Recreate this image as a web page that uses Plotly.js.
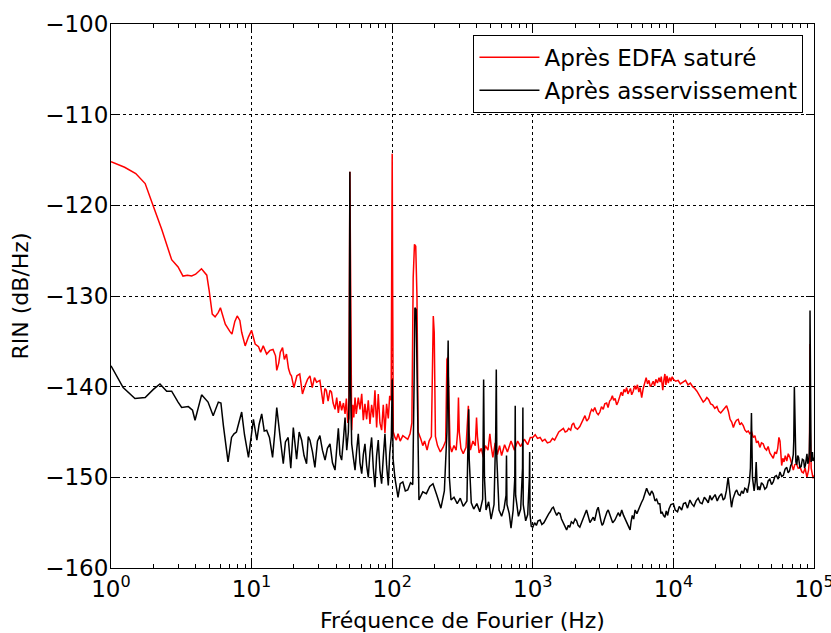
<!DOCTYPE html>
<html>
<head>
<meta charset="utf-8">
<script src="https://cdn.plot.ly/plotly-3.0.1.min.js"></script>
<style>html,body{margin:0;padding:0;background:#fff;}</style>
</head>
<body>
<div id="chart" style="width:831px;height:633px;"></div>
<script>
// Red series: "Après EDFA saturé"
var freqRed = [
1,1.25,1.5,1.75,2.0,2.3,2.7,3.0,3.25,3.5,3.75,4.0,4.4,4.8,5.0,5.25,5.5,5.8,6.0,6.5,7.0,7.25,7.6,7.9,8.25,8.5,9.0,9.5,10.0,10.6,11.2,11.6,12.1,12.8,13.5,14.2,14.8,15.1,15.6,16.0,16.6,17.1,17.7,18.3,18.8,19.2,20.0,21.0,22.0,23.0,24.0,25.0,26.0,27.0,28.0,29.0,30.6,31.5,32.3,33.2,34.0,35.0,36.1,37.0,38.0,39.2,40.3,41.4,42.5,43.7,45.0,46.2,47.2,48.3,49.2,50.0,50.8,51.5,52.5,53.3,54.4,55.5,57.4,59.0,60.7,62.3,64.0,65.8,67.6,69.5,71.4,73.4,75.4,77.5,79.6,81.8,84.1,86.4,88.8,91.2,93.8,96.0,98.3,99.3,100,100.8,101.8,104.6,107,110,114,119,124,129,134,138,141,144,147,150,153,156,160,165,170,177,183,190,193,196,199,203,210,220,230,240,245,248,252,258,265,275,285,292,296,300,308,320,335,344,348,352,360,375,390,398,404,415,430,445,460,480,495,505,520,540,560,580,600,630,660,700,740,780,820,870,920,960,
1000,1040,1080,1127,1170,1220,1270,1330,1380,1430,1480,1530,1590,1650,1700,1750,1800,1860,1900,1950,2000,2080,2160,2230,2300,2350,2420,2500,2560,2620,2690,2760,2850,2920,3000,3080,3170,3250,3350,3430,3520,3600,3680,3760,3850,3950,4040,4150,4250,4350,4450,4550,4650,4750,4850,4950,5050,5180,5300,5420,5550,5680,5800,5950,6100,6250,6400,6550,6700,6850,7000,7180,7350,7500,7700,7900,8050,8200,8400,8550,8700,8850,9000,9200,9400,9600,9800,
10000,10400,10800,11200,11700,12200,12700,13200,13700,14200,14700,15200,15700,16300,16800,17300,17800,18400,19000,19700,20400,21000,21700,22400,23100,23900,24600,25300,26000,26700,27400,28100,28900,29700,30500,31400,32300,33200,34100,35000,36000,37000,38000,39000,40000,41200,42300,43500,44700,46000,47200,48500,49900,51300,52700,54000,55200,56300,57300,58000,58900,60000,61200,62500,64000,65600,67400,69300,71300,73000,75000,77200,79700,82000,84000,86500,89100,91500,92800,93300,93700,94200,95500,97000,98500,100000
];
var rinRed = [
-115.2,-115.8,-116.5,-117.6,-120.1,-122.7,-126.0,-126.8,-127.8,-127.7,-127.8,-127.6,-127.0,-127.7,-129.5,-132.0,-132.3,-131.8,-131.3,-133.1,-133.9,-134.2,-132.8,-132.2,-132.7,-134.0,-135.5,-134.5,-133.8,-135.3,-135.6,-136.2,-135.5,-136.4,-136.0,-135.9,-136.6,-138.2,-137.4,-136.2,-135.7,-137.0,-136.4,-138.0,-138.6,-138.8,-140.1,-138.8,-138.6,-140.8,-139.9,-139.2,-138.8,-140.1,-139.0,-139.5,-139.3,-140.6,-141.9,-140.2,-140.4,-141.6,-140.4,-140.6,-141.8,-142.5,-141.2,-142.9,-141.6,-142.6,-141.8,-143.0,-141.3,-144.0,-143.5,-116.3,-141.0,-144.8,-142.0,-143.4,-141.2,-143.0,-141.2,-142.5,-140.8,-143.7,-141.9,-143.6,-141.5,-144.1,-142.0,-143.4,-140.4,-144.5,-140.8,-144.0,-144.8,-142.0,-145.1,-141.9,-143.5,-141.0,-141.5,-128.0,-114.3,-130.0,-145.0,-145.6,-145.9,-145.2,-146.0,-145.4,-145.6,-145.8,-145.2,-144.0,-128.0,-124.3,-124.5,-130.0,-145.0,-145.3,-145.8,-146.5,-146.0,-147.0,-146.0,-145.5,-138.0,-132.2,-134.0,-145.5,-146.5,-147.2,-146.7,-146.0,-137.0,-136.8,-140.0,-146.5,-147.2,-146.5,-147.0,-145.0,-141.2,-145.0,-146.8,-147.4,-146.7,-144.0,-142.1,-145.0,-147.0,-146.0,-146.5,-143.4,-145.5,-147.3,-146.8,-147.8,-146.5,-147.0,-145.2,-146.5,-147.8,-146.2,-147.5,-146.5,-147.6,-146.4,-147.2,-146.0,-147.0,-146.0,-146.6,-145.8,-146.4,-145.6,
-145.6,-145.3,-145.7,-145.6,-146.0,-145.8,-146.2,-146.1,-145.7,-145.9,-145.5,-145.0,-144.8,-144.6,-145.0,-144.9,-144.6,-144.8,-144.2,-144.0,-144.5,-144.7,-144.4,-143.9,-143.6,-143.2,-143.8,-143.5,-142.9,-142.5,-142.7,-142.3,-142.9,-143.1,-142.8,-142.2,-142.5,-141.9,-141.8,-142.3,-141.6,-141.4,-141.0,-141.5,-141.3,-142.0,-141.7,-141.2,-140.6,-141.0,-140.3,-140.6,-140.1,-140.8,-140.4,-140.2,-140.9,-140.5,-139.9,-140.3,-139.8,-140.6,-140.1,-141.2,-140.2,-139.6,-139.0,-139.7,-139.3,-140.0,-139.8,-139.4,-139.9,-139.2,-139.6,-139.0,-139.5,-138.9,-140.4,-139.3,-138.6,-139.8,-138.8,-139.6,-139.0,-139.4,-138.9,
-139.2,-139.4,-139.3,-139.7,-139.5,-139.3,-139.8,-139.6,-140.0,-140.2,-140.5,-140.9,-141.3,-141.7,-141.5,-141.2,-141.4,-141.9,-142.0,-142.4,-142.2,-142.7,-142.9,-142.6,-142.3,-142.1,-142.7,-143.6,-143.9,-144.5,-144.0,-143.7,-143.6,-144.2,-144.0,-144.3,-144.8,-145.0,-144.9,-145.2,-145.0,-145.6,-145.4,-146.2,-146.0,-146.7,-146.2,-146.3,-146.8,-147.0,-146.6,-147.3,-147.6,-147.9,-147.2,-147.4,-146.8,-145.6,-146.0,-148.0,-148.7,-147.9,-148.3,-147.6,-148.2,-147.4,-147.8,-148.5,-149.2,-148.6,-148.5,-149.0,-148.9,-149.4,-149.5,-149.0,-150.0,-149.2,-148.0,-142.0,-135.3,-145.0,-149.0,-149.4,-150.1,-149.8
];

// Black series: "Après asservissement"
var freqBlack = [
1,1.22,1.48,1.75,2.0,2.23,2.49,2.7,3.0,3.18,3.55,3.8,3.96,4.2,4.41,4.9,5.33,5.8,6.05,6.3,6.8,7.2,7.5,7.8,8.1,8.5,8.9,9.5,10.3,10.9,11.3,11.8,12.3,12.8,13.4,14.1,14.6,15.1,15.9,16.8,17.4,18.2,19.0,19.8,20.9,21.8,22.7,23.6,24.6,25.3,26.0,27.1,28.2,29.4,30.6,31.9,33.3,34.6,36.1,37.6,39.2,40.3,41.4,42.5,43.7,45.0,46.2,47.5,48.8,49.4,50,50.6,51.5,52.9,54.4,55.9,57.4,59.0,60.7,62.3,64.0,65.8,67.6,69.5,71.4,73.4,75.4,77.5,79.6,81.8,84.1,86.4,88.8,91.2,93.8,96.0,98.6,100,101.5,104.6,107,110,114,119,124,129,135,140,143,145,148,151,155,165,175,185,195,208,222,235,245,250,255,262,275,290,305,320,340,347,350,353,365,380,400,420,440,447,453,465,485,505,530,545,550,555,575,600,625,645,650,655,680,700,725,745,750,755,790,820,845,850,855,890,920,945,950,955,975,
1000,1030,1060,1090,1127,1160,1200,1230,1260,1300,1330,1370,1400,1440,1480,1520,1560,1600,1650,1700,1740,1790,1830,1880,1940,2000,2050,2100,2160,2220,2280,2350,2410,2480,2550,2620,2690,2750,2800,2860,2920,2980,3050,3110,3170,3240,3300,3370,3440,3520,3600,3700,3840,3950,4050,4170,4290,4420,4600,4750,4920,5000,5100,5220,5340,5500,5650,5780,5920,6100,6250,6450,6600,6800,7000,7180,7400,7600,7800,8010,8150,8300,8500,8700,8900,9100,9300,9600,
10000,10300,10700,11000,11450,11800,12200,12600,13100,13500,14000,14500,15000,15500,16000,16600,17200,17700,18200,18700,19200,19800,20500,21200,22000,22600,23200,23800,24500,25200,25900,26500,27000,27600,28200,29000,29800,30600,31400,32200,33000,33600,34100,34700,35300,35900,36500,37000,37500,38200,38800,39300,39800,40500,41200,42300,43500,44700,46000,47200,48500,49900,51300,52700,54000,55600,57300,58900,60500,62300,64000,65500,67000,68300,69500,71200,71800,72500,73300,74300,75500,76600,77700,79300,81000,82700,84400,85700,87000,88000,89100,90300,91500,92600,93200,93700,94300,95300,96500,97500,98500,100000
];
var rinBlack = [
-137.7,-140.1,-141.3,-141.2,-140.3,-139.7,-140.5,-140.5,-141.7,-142.3,-142.2,-142.6,-143.7,-142.0,-140.9,-141.7,-143.2,-141.7,-141.8,-144.3,-148.3,-145.6,-145.2,-145.0,-144.0,-142.8,-145.3,-147.8,-143.6,-145.9,-144.2,-143.0,-144.9,-144.8,-145.6,-147.8,-145.2,-142.3,-145.4,-148.5,-146.1,-145.6,-149.0,-144.5,-148.0,-145.0,-145.9,-147.6,-148.5,-145.5,-145.9,-147.2,-148.9,-146.0,-145.4,-147.0,-148.1,-146.8,-146.3,-148.4,-149.2,-146.5,-144.6,-147.5,-148.1,-145.8,-143.4,-147.0,-145.0,-141.0,-116.3,-140.0,-146.3,-147.8,-149.2,-147.0,-145.2,-148.4,-149.6,-147.5,-146.3,-148.7,-150.0,-147.2,-145.6,-149.0,-151.1,-147.6,-145.9,-149.2,-150.7,-147.8,-145.2,-148.6,-150.9,-147.4,-145.5,-139.2,-148.0,-150.1,-151.1,-152.2,-150.7,-150.5,-151.5,-151.4,-150.6,-150.8,-140.0,-131.3,-131.5,-140.0,-152.5,-151.6,-151.8,-151.0,-150.7,-152.0,-153.4,-151.5,-145.0,-134.9,-150.0,-152.5,-152.2,-152.9,-152.3,-153.2,-152.6,-145.0,-142.5,-148.0,-152.8,-153.5,-152.9,-153.8,-152.4,-139.2,-150.0,-153.6,-152.7,-154.6,-153.0,-145.0,-138.1,-148.0,-153.6,-154.3,-153.4,-152.0,-147.6,-153.0,-154.0,-155.6,-153.6,-150.0,-142.1,-152.0,-154.3,-153.5,-149.0,-142.3,-153.0,-154.8,-154.1,-150.0,-147.2,-154.0,-155.4,
-155.5,-155.0,-155.3,-154.8,-154.7,-155.2,-155.0,-154.6,-154.4,-154.0,-153.8,-153.4,-153.3,-153.8,-154.2,-153.9,-154.0,-154.6,-155.0,-155.5,-155.8,-155.3,-155.5,-154.9,-155.1,-154.6,-154.8,-155.3,-155.5,-155.0,-154.6,-154.1,-153.6,-154.3,-155.0,-154.7,-154.4,-154.8,-154.0,-153.6,-153.3,-154.2,-154.8,-155.3,-155.1,-154.6,-154.2,-153.8,-153.6,-154.0,-154.5,-155.0,-154.7,-154.2,-153.9,-154.3,-153.6,-154.2,-154.8,-155.2,-155.8,-154.9,-154.2,-154.6,-153.6,-154.0,-153.5,-153.3,-152.8,-152.4,-151.9,-151.2,-151.6,-152.0,-151.5,-151.8,-152.6,-152.4,-152.9,-152.9,-154.0,-153.8,-154.2,-154.4,-153.7,-154.2,-153.5,-153.0,
-152.9,-153.6,-153.8,-153.2,-153.6,-152.9,-152.8,-153.4,-152.5,-152.9,-153.2,-152.6,-152.3,-152.8,-152.9,-152.2,-152.5,-152.8,-152.0,-152.5,-152.2,-151.9,-152.6,-152.1,-151.8,-152.5,-152.3,-151.5,-150.0,-151.8,-153.3,-152.4,-151.9,-151.6,-151.4,-151.9,-152.0,-151.5,-151.8,-151.2,-151.3,-151.7,-151.1,-150.5,-149.0,-142.9,-150.0,-151.2,-151.5,-150.5,-148.3,-150.5,-151.4,-151.0,-151.4,-150.6,-150.8,-151.3,-151.1,-150.4,-150.2,-150.8,-150.5,-149.9,-149.8,-150.2,-149.4,-149.9,-149.8,-149.1,-148.9,-149.5,-149.3,-148.7,-148.5,-147.5,-146.0,-140.0,-147.0,-148.3,-148.6,-147.6,-147.8,-148.9,-148.8,-148.0,-148.1,-149.0,-148.6,-147.6,-147.4,-148.5,-148.2,-147.3,-145.0,-131.6,-146.0,-148.3,-148.0,-147.2,-148.2,-147.8
];

var xTickVals = [1, 10, 100, 1000, 10000, 100000];
var xTickText = ['10<sup>0</sup>','10<sup>1</sup>','10<sup>2</sup>','10<sup>3</sup>','10<sup>4</sup>','10<sup>5</sup>'];
var yTickVals = [-160,-150,-140,-130,-120,-110,-100];
var yTickText = ['\u2212160','\u2212150','\u2212140','\u2212130','\u2212120','\u2212110','\u2212100'];

var font = 'DejaVu Sans, sans-serif';

var traces = [
  {x: freqRed, y: rinRed, type:'scatter', mode:'lines', name:'Après EDFA saturé',
   line:{color:'#ff0000', width:1.5}, legendgroup:'a'},
  {x: freqBlack, y: rinBlack, type:'scatter', mode:'lines', name:'Après asservissement',
   line:{color:'#000000', width:1.5}, legendgroup:'b'}
];

var layout = {
  width: 831, height: 633,
  margin: {l:111, r:17, t:24, b:65},
  paper_bgcolor:'#fff', plot_bgcolor:'#fff',
  font: {family: font, size: 22, color:'#000'},
  showlegend: true,
  legend: {x:0.985, xanchor:'right', y:0.980, yanchor:'top', bgcolor:'#fff',
           bordercolor:'#000', borderwidth:1, font:{family:font, size:23},
           traceorder:'grouped', tracegroupgap:0, itemwidth:60},
  xaxis: {
    type:'log', range:[-0.00001, 5.00001],
    tickvals: xTickVals, ticktext: xTickText,
    ticks:'inside', ticklen:8, tickwidth:1, tickcolor:'#000',
    ticklabeloverflow:'allow',
    showline:true, linecolor:'#000', linewidth:1, mirror:'allticks',
    showgrid:true, gridcolor:'#000', gridwidth:1, griddash:'dot',
    zeroline:false,
    minor:{dtick:'D1', ticks:'inside', ticklen:4, tickcolor:'#000', showgrid:false},
    tickfont:{family:font, size:23},
    title:{text:'Fréquence de Fourier (Hz)', font:{family:font, size:22}, standoff:14}
  },
  yaxis: {
    range:[-160,-100],
    tickvals: yTickVals, ticktext: yTickText,
    ticks:'inside', ticklen:8, tickwidth:1, tickcolor:'#000',
    showline:true, linecolor:'#000', linewidth:1, mirror:'allticks',
    showgrid:true, gridcolor:'#000', gridwidth:1, griddash:'dot',
    zeroline:false, ticklabelstandoff:-3,
    tickfont:{family:font, size:23},
    title:{text:'RIN (dB/Hz)', font:{family:font, size:22}, standoff:10}
  }
};

Plotly.newPlot('chart', traces, layout, {displayModeBar:false, staticPlot:true});
</script>
</body>
</html>
